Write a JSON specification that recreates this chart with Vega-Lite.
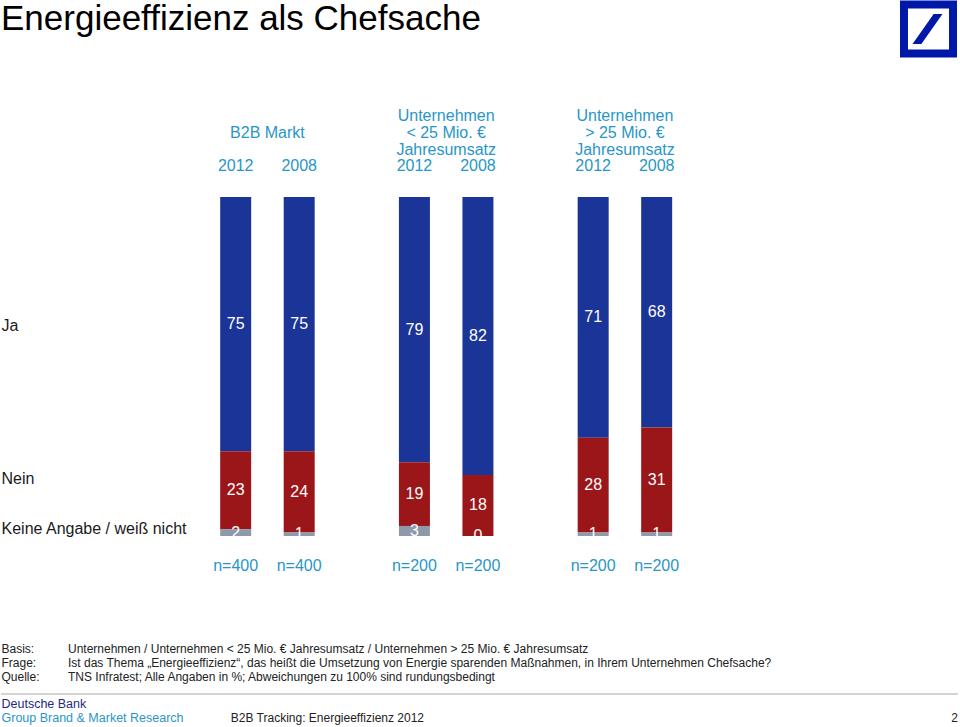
{
  "$schema": "https://vega.github.io/schema/vega-lite/v6.json",
  "padding": 0,
  "background": "white",
  "config": {"font": "Liberation Sans", "view": {"stroke": null}},
  "datasets": {
    "antworten": [
      {"gruppe": "B2B Markt", "jahr": "2012", "antwort": "Ja", "rang": 3, "wert": 75},
      {"gruppe": "B2B Markt", "jahr": "2012", "antwort": "Nein", "rang": 2, "wert": 23},
      {"gruppe": "B2B Markt", "jahr": "2012", "antwort": "Keine Angabe / weiß nicht", "rang": 1, "wert": 2},
      {"gruppe": "B2B Markt", "jahr": "2008", "antwort": "Ja", "rang": 3, "wert": 75},
      {"gruppe": "B2B Markt", "jahr": "2008", "antwort": "Nein", "rang": 2, "wert": 24},
      {"gruppe": "B2B Markt", "jahr": "2008", "antwort": "Keine Angabe / weiß nicht", "rang": 1, "wert": 1},
      {"gruppe": "Unternehmen < 25 Mio. € Jahresumsatz", "jahr": "2012", "antwort": "Ja", "rang": 3, "wert": 79},
      {"gruppe": "Unternehmen < 25 Mio. € Jahresumsatz", "jahr": "2012", "antwort": "Nein", "rang": 2, "wert": 19},
      {"gruppe": "Unternehmen < 25 Mio. € Jahresumsatz", "jahr": "2012", "antwort": "Keine Angabe / weiß nicht", "rang": 1, "wert": 3},
      {"gruppe": "Unternehmen < 25 Mio. € Jahresumsatz", "jahr": "2008", "antwort": "Ja", "rang": 3, "wert": 82},
      {"gruppe": "Unternehmen < 25 Mio. € Jahresumsatz", "jahr": "2008", "antwort": "Nein", "rang": 2, "wert": 18},
      {"gruppe": "Unternehmen < 25 Mio. € Jahresumsatz", "jahr": "2008", "antwort": "Keine Angabe / weiß nicht", "rang": 1, "wert": 0},
      {"gruppe": "Unternehmen > 25 Mio. € Jahresumsatz", "jahr": "2012", "antwort": "Ja", "rang": 3, "wert": 71},
      {"gruppe": "Unternehmen > 25 Mio. € Jahresumsatz", "jahr": "2012", "antwort": "Nein", "rang": 2, "wert": 28},
      {"gruppe": "Unternehmen > 25 Mio. € Jahresumsatz", "jahr": "2012", "antwort": "Keine Angabe / weiß nicht", "rang": 1, "wert": 1},
      {"gruppe": "Unternehmen > 25 Mio. € Jahresumsatz", "jahr": "2008", "antwort": "Ja", "rang": 3, "wert": 68},
      {"gruppe": "Unternehmen > 25 Mio. € Jahresumsatz", "jahr": "2008", "antwort": "Nein", "rang": 2, "wert": 31},
      {"gruppe": "Unternehmen > 25 Mio. € Jahresumsatz", "jahr": "2008", "antwort": "Keine Angabe / weiß nicht", "rang": 1, "wert": 1}
    ],
    "stichproben": [
      {"gruppe": "B2B Markt", "jahr": "2012", "n": "n=400"},
      {"gruppe": "B2B Markt", "jahr": "2008", "n": "n=400"},
      {"gruppe": "Unternehmen < 25 Mio. € Jahresumsatz", "jahr": "2012", "n": "n=200"},
      {"gruppe": "Unternehmen < 25 Mio. € Jahresumsatz", "jahr": "2008", "n": "n=200"},
      {"gruppe": "Unternehmen > 25 Mio. € Jahresumsatz", "jahr": "2012", "n": "n=200"},
      {"gruppe": "Unternehmen > 25 Mio. € Jahresumsatz", "jahr": "2008", "n": "n=200"}
    ]
  },
  "spacing": 49,
  "vconcat": [
    {
      "spacing": 0,
      "hconcat": [
        {
          "width": 898,
          "height": 37,
          "data": {"values": [{"titel": "Energieeffizienz als Chefsache"}]},
          "mark": {"type": "text", "align": "left", "baseline": "middle", "fontSize": 35, "color": "#000000"},
          "encoding": {
            "x": {"field": "titel", "type": "nominal", "axis": null, "scale": {"type": "point", "padding": 0, "align": 0}},
            "text": {"field": "titel", "type": "nominal"}
          }
        },
        {
          "width": 59,
          "height": 58,
          "data": {"values": [{"marke": "Deutsche Bank"}]},
          "mark": {"type": "point", "filled": true, "opacity": 1, "color": "#0018a8", "strokeWidth": 0, "size": 3249,
            "shape": "M-1,-1L1,-1L1,1L-1,1Z M-0.72,-0.72L-0.72,0.72L0.72,0.72L0.72,-0.72Z M-0.56,0.53L-0.25,0.53L0.49,-0.53L0.18,-0.53Z"},
          "encoding": {}
        }
      ]
    },
    {
      "width": 713,
      "height": 339,
      "encoding": {
        "x": {"field": "gruppe", "type": "nominal", "title": null,
          "scale": {"domain": ["B2B Markt", "Unternehmen < 25 Mio. € Jahresumsatz", "Unternehmen > 25 Mio. € Jahresumsatz"], "paddingInner": 0.116, "paddingOuter": 0.5525, "align": 0.949},
          "axis": {"orient": "top", "domain": false, "ticks": false, "tickSize": 0, "labelAngle": 0, "labelFontSize": 16, "labelColor": "#2896c8", "labelLineHeight": 17, "labelPadding": 90, "labelBaseline": "top", "labelLimit": 300,
            "labelExpr": "datum.value === 'B2B Markt' ? ['', 'B2B Markt'] : datum.value === 'Unternehmen < 25 Mio. € Jahresumsatz' ? ['Unternehmen', '< 25 Mio. €', 'Jahresumsatz'] : ['Unternehmen', '> 25 Mio. €', 'Jahresumsatz']"}},
        "xOffset": {"field": "jahr", "type": "nominal", "scale": {"domain": ["2012", "2008"], "paddingInner": 0.512, "paddingOuter": 0.5}}
      },
      "layer": [
        {
          "data": {"name": "antworten"},
          "mark": {"type": "bar"},
          "encoding": {
            "y": {"field": "wert", "type": "quantitative", "stack": "normalize", "title": null,
              "axis": {"values": [0.021, 0.171, 0.622], "domain": false, "ticks": false, "tickSize": 0, "grid": false, "labelAlign": "left", "labelBaseline": "middle", "labelPadding": 0, "labelFontSize": 16, "labelColor": "#1a1a1a", "labelOverlap": false, "labelBound": false, "labelFlush": false, "labelLimit": 400,
                "labelExpr": "datum.value > 0.5 ? 'Ja' : datum.value > 0.1 ? 'Nein' : 'Keine Angabe / weiß nicht'"}},
            "order": {"field": "rang", "type": "quantitative"},
            "color": {"field": "antwort", "type": "nominal", "legend": null,
              "scale": {"domain": ["Keine Angabe / weiß nicht", "Nein", "Ja"], "range": ["#8d9aab", "#9b1619", "#1b3497"]}}
          }
        },
        {
          "data": {"name": "antworten"},
          "mark": {"type": "text", "fontSize": 16, "baseline": "middle", "align": "center", "clip": true, "color": "#ffffff"},
          "encoding": {
            "y": {"field": "wert", "type": "quantitative", "stack": "normalize", "bandPosition": 0.5},
            "order": {"field": "rang", "type": "quantitative"},
            "detail": {"field": "antwort", "type": "nominal"},
            "text": {"field": "wert", "type": "quantitative"}
          }
        },
        {
          "data": {"name": "stichproben"},
          "mark": {"type": "text", "fontSize": 16, "baseline": "middle", "align": "center", "color": "#2896c8", "dy": -31},
          "encoding": {
            "y": {"datum": 1},
            "text": {"field": "jahr", "type": "nominal"}
          }
        },
        {
          "data": {"name": "stichproben"},
          "mark": {"type": "text", "fontSize": 16, "baseline": "middle", "align": "center", "color": "#2896c8", "dy": 30},
          "encoding": {
            "y": {"datum": 0},
            "text": {"field": "n", "type": "nominal"}
          }
        }
      ]
    },
    {
      "spacing": 0,
      "vconcat": [
        {
          "width": 134,
          "height": 61,
          "data": {"values": [
            {"zeile": "Basis:", "text": "Unternehmen / Unternehmen < 25 Mio. € Jahresumsatz / Unternehmen > 25 Mio. € Jahresumsatz"},
            {"zeile": "Frage:", "text": "Ist das Thema „Energieeffizienz“, das heißt die Umsetzung von Energie sparenden Maßnahmen, in Ihrem Unternehmen Chefsache?"},
            {"zeile": "Quelle:", "text": "TNS Infratest; Alle Angaben in %; Abweichungen zu 100% sind rundungsbedingt"}
          ]},
          "mark": {"type": "text", "align": "left", "baseline": "middle", "fontSize": 12, "color": "#222222"},
          "encoding": {
            "y": {"field": "zeile", "type": "nominal", "title": null,
              "scale": {"type": "band", "domain": ["Basis:", "Frage:", "Quelle:"], "paddingInner": 0, "paddingOuter": 0.679, "align": 1},
              "axis": {"domain": false, "ticks": false, "tickSize": 0, "labelAlign": "left", "labelBaseline": "middle", "labelPadding": 0, "labelFontSize": 12, "labelColor": "#222222"}},
            "text": {"field": "text", "type": "nominal"}
          }
        },
        {
          "width": 957,
          "height": 10,
          "data": {"values": [{"linie": "Trenner"}]},
          "mark": {"type": "rule", "color": "#a8a8a8", "strokeWidth": 1},
          "encoding": {"y": {"datum": 0, "scale": {"domain": [0, 1]}, "axis": null}}
        },
        {
          "width": 957,
          "height": 32,
          "encoding": {
            "y": {"field": "zeile", "type": "nominal", "title": null,
              "scale": {"type": "band", "domain": ["Deutsche Bank", "Group Brand & Market Research"], "paddingInner": 0, "paddingOuter": 0.143},
              "axis": {"domain": false, "ticks": false, "tickSize": 0, "labelAlign": "left", "labelBaseline": "middle", "labelPadding": 0, "labelFontSize": 12.5, "labelLimit": 400,
                "labelColor": {"condition": {"test": "datum.value === 'Deutsche Bank'", "value": "#1f2a80"}, "value": "#2896c8"}}},
            "x": {"field": "spalte", "type": "nominal", "axis": null,
              "scale": {"type": "point", "domain": ["mitte", "rechts"], "padding": 0.158, "align": 1}},
            "text": {"field": "text", "type": "nominal"}
          },
          "layer": [
            {
              "data": {"values": [{"zeile": "Group Brand & Market Research", "spalte": "mitte", "text": "B2B Tracking: Energieeffizienz  2012"}]},
              "mark": {"type": "text", "align": "left", "baseline": "middle", "fontSize": 12, "color": "#222222"}
            },
            {
              "data": {"values": [{"zeile": "Group Brand & Market Research", "spalte": "rechts", "text": "2"}]},
              "mark": {"type": "text", "align": "right", "baseline": "middle", "fontSize": 12, "color": "#222222"}
            }
          ]
        }
      ]
    }
  ]
}
